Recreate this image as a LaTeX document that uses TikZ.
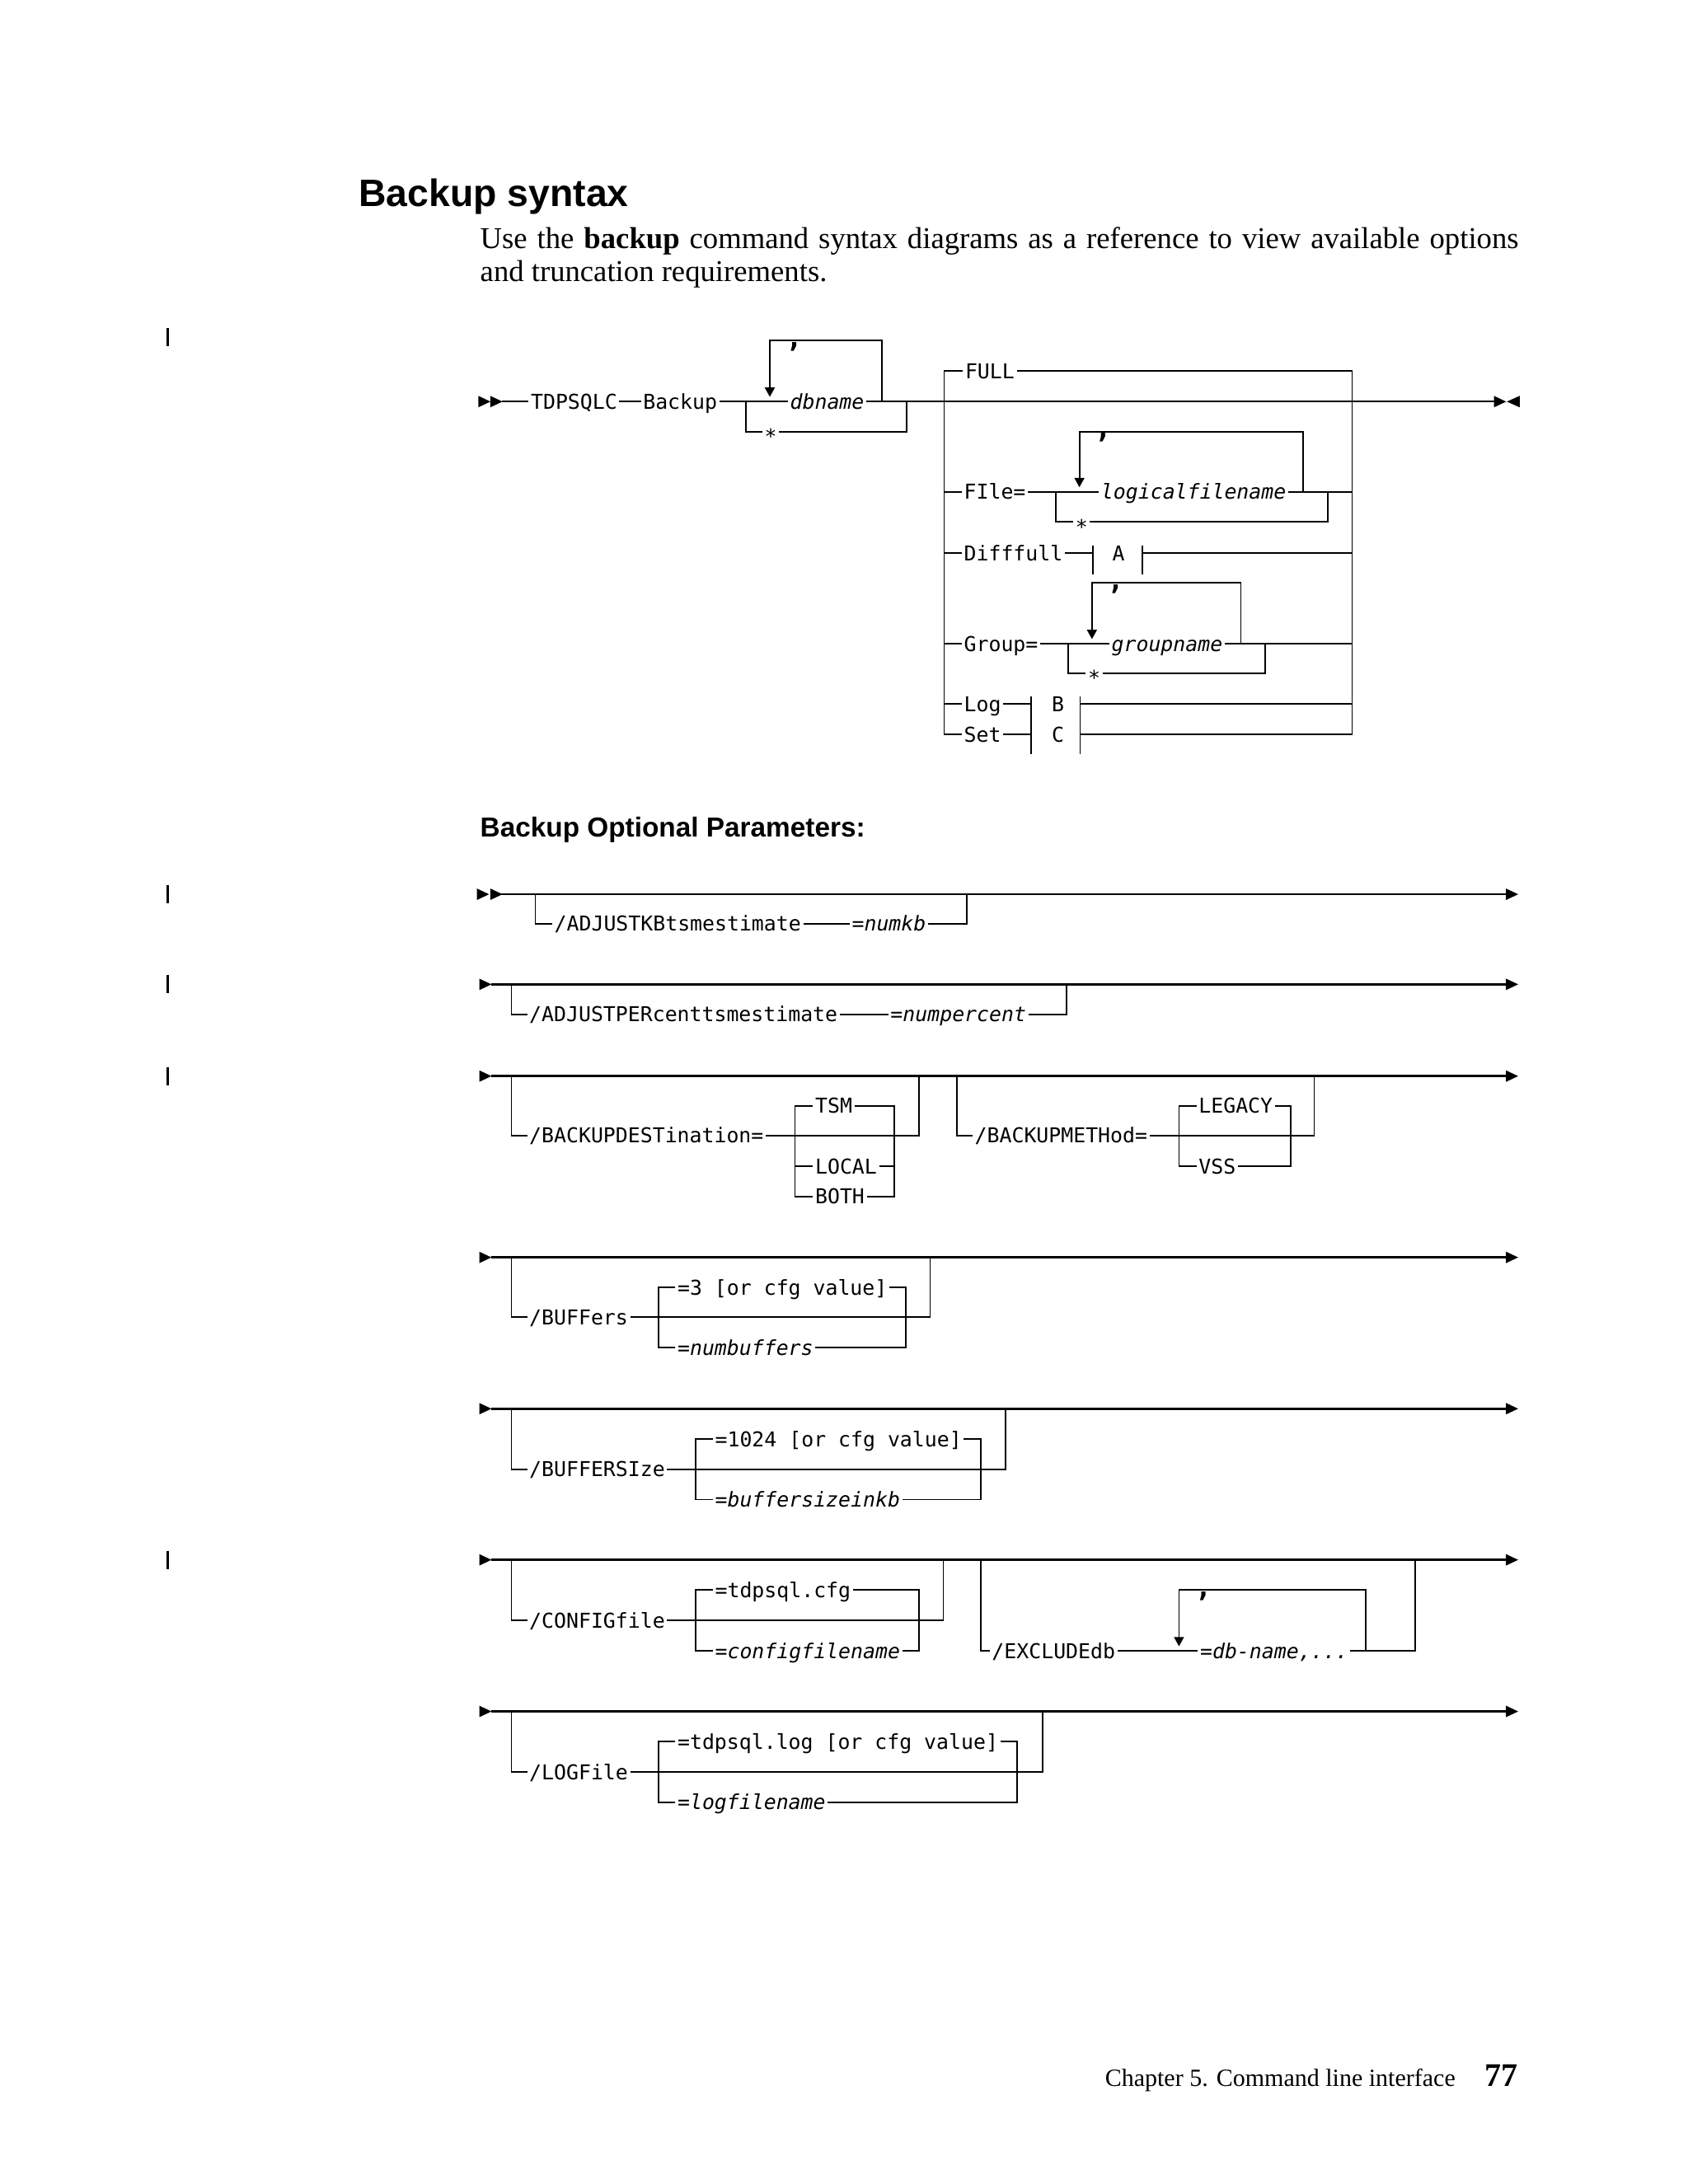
\documentclass[tikz,border=0pt]{standalone}
\usepackage{fontspec}
\setmainfont{Liberation Serif}
\newfontfamily\headfont{Liberation Sans}
\newfontfamily\synfont{DejaVu Sans Mono}
\usetikzlibrary{arrows.meta}
\begin{document}
\begin{tikzpicture}[x=0.5074pt,y=-0.5074pt,
				rail/.style={line width=0.55pt},
				mainrail/.style={line width=0.8pt},
				rep/.style={rail,-{Triangle[length=3.4pt,width=3.6pt]}},
				kw/.style={font=\synfont\fontsize{7.45}{9}\selectfont,anchor=west,
					inner xsep=0.6pt,inner ysep=0pt,text height=6.92pt,text depth=1.49pt},
				var/.style={kw,font=\synfont\itshape\fontsize{7.45}{9}\selectfont},
				sep/.style={font=\synfont\bfseries\fontsize{10}{12}\selectfont,anchor=base,inner sep=0pt},
				tipr/.pic={\fill (0,-4.1) -- (8.7,0) -- (0,4.1) -- cycle;},
				tipl/.pic={\fill (0,-4.1) -- (-9.2,0) -- (0,4.1) -- cycle;}]
\fill[white] (0,0) rectangle (1210.4,1566.2);
\useasboundingbox (0,0) rectangle (1210.4,1566.2);
% page text
\node[anchor=base west,inner sep=0pt,font=\headfont\bfseries\fontsize{13.9}{16}\selectfont] (title) at (257,147.8) {Backup syntax};
\node[anchor=base west,inner sep=0pt,font=\fontsize{11}{12}\selectfont] (intro1) at (344,178.3)
	{\makebox[377.8pt][s]{Use the \textbf{backup} command syntax diagrams as a reference to view available options}};
\node[anchor=base west,inner sep=0pt,font=\fontsize{11}{12}\selectfont] (intro2) at (344,202) {and truncation requirements.};
\node[anchor=base west,inner sep=0pt,font=\headfont\bfseries\fontsize{10}{12}\selectfont] (optparms) at (344,600) {Backup Optional Parameters:};
\node[anchor=base east,inner sep=0pt,font=\fontsize{9}{11}\selectfont] (chapter) at (1044,1496) {Chapter 5. Command line interface};
\node[anchor=base east,inner sep=0pt,font=\bfseries\fontsize{12}{14}\selectfont] (pagenum) at (1089,1496) {77};
\foreach \y in {242,641.3,705.9,771.7,1118.6}
	\draw[line width=0.9pt] (120.5,\y-6.5) -- (120.5,\y+6.5);

% backup command
\pic at (343,288) {tipr};
\pic at (351.6,288) {tipr};
\pic at (1071.3,288) {tipr};
\pic at (1089.7,288) {tipl};
\node[kw] (tdpsqlc) at (379.1,288) {TDPSQLC};
\node[kw] (backup) at (459.6,288) {Backup};
\node[var] (dbname) at (565,288) {dbname};
\node[kw] (dbstar) at (546.6,309.7) {\raisebox{-1.7pt}{*}};
\node[sep] (dbsep) at (569.5,249) {,};
\draw[rail] (360.2,288) -- (tdpsqlc.west) (tdpsqlc.east) -- (backup.west)
	(backup.east) -- (dbname.west) (dbname.east) -- (1071.3,288);
\draw[rail] (534.8,288) |- (dbstar.west) (dbstar.east) -| (650.1,288);
\draw[rep] (632.4,288) |- (552,244.3) -- (552,284.6);

\node[kw] (full) at (690.5,266) {FULL};
\node[kw] (file) at (689.7,352.8) {FIle=};
\node[var] (lfn) at (788,352.8) {logicalfilename};
\node[kw] (lfnstar) at (769.6,374.3) {\raisebox{-1.7pt}{*}};
\node[sep] (lfnsep) at (791,314.4) {,};
\node[kw] (difffull) at (689.7,396.6) {Difffull};
\node[kw] (fragA) at (796,396.6) {A};
\node[kw] (group) at (689.7,461.6) {Group=};
\node[var] (gname) at (795.5,461.6) {groupname};
\node[kw] (gstar) at (778.6,483) {\raisebox{-1.7pt}{*}};
\node[sep] (gsep) at (800,422.7) {,};
\node[kw] (log) at (689.7,504.7) {Log};
\node[kw] (fragB) at (752.6,504.7) {B};
\node[kw] (set) at (689.7,526.6) {Set};
\node[kw] (fragC) at (752.6,526.6) {C};
\draw[rail] (full.west) -| (677,526.6) -- (set.west);
\draw[rail] (full.east) -| (969.6,526.6) -- (774.5,526.6);
\draw[rail] (677,352.8) -- (file.west) (file.east) -- (lfn.west) (lfn.east) -- (969.6,352.8);
\draw[rail] (757,352.8) |- (lfnstar.west) (lfnstar.east) -| (952,352.8);
\draw[rep] (934.2,352.8) |- (774,309.7) -- (774,349.4);
\draw[rail] (677,396.6) -- (difffull.west) (difffull.east) -- (783.6,396.6)
	(818.9,396.6) -- (969.6,396.6);
\draw[rail] (783.6,391) -- (783.6,411.7) (818.9,391) -- (818.9,411.7);
\draw[rail] (677,461.6) -- (group.west) (group.east) -- (gname.west) (gname.east) -- (969.6,461.6);
\draw[rail] (766,461.6) |- (gstar.west) (gstar.east) -| (907.2,461.6);
\draw[rep] (889.8,461.6) |- (783,418) -- (783,458.3);
\draw[rail] (log.east) -- (739.2,504.7) (774.5,504.7) -- (969.6,504.7);
\draw[rail] (677,504.7) -- (log.west) (set.east) -- (739.2,526.6);
\draw[rail] (739.2,499.4) -- (739.2,541) (774.5,499.4) -- (774.5,541);

% optional parameters
\pic at (342,641.3) {tipr};
\pic at (351.6,641.3) {tipr};
\foreach \y in {705.9,771.7,901.7,1010.2,1118.6,1227.3}
	\pic at (343.7,\y) {tipr};
\foreach \y in {641.3,705.9,771.7,901.7,1010.2,1118.6,1227.3} {
	\draw[mainrail] (352,\y) -- (1079.9,\y);
	\pic at (1079.9,\y) {tipr};
}

\node[kw] (adjkb) at (396,662.3) {/ADJUSTKBtsmestimate};
\node[kw] (numkb) at (609.3,662.3) {=\textit{numkb}};
\draw[rail] (383.9,641.3) |- (adjkb.west) (adjkb.east) -- (numkb.west) (numkb.east) -| (693.5,641.3);

\node[kw] (adjpct) at (378,727.5) {/ADJUSTPERcenttsmestimate};
\node[kw] (numpct) at (637,727.5) {=\textit{numpercent}};
\draw[rail] (366.7,705.9) |- (adjpct.west) (adjpct.east) -- (numpct.west) (numpct.east) -| (765,705.9);

\node[kw] (bdest) at (378,814.2) {/BACKUPDESTination=};
\node[kw] (tsm) at (583,793) {TSM};
\node[kw] (local) at (583,836.3) {LOCAL};
\node[kw] (both) at (583,858) {BOTH};
\draw[rail] (366.7,771.7) |- (bdest.west) (bdest.east) -| (659.2,771.7);
\draw[rail] (tsm.west) -| (570,858) -- (both.west) (local.west) -- (570,836.3);
\draw[rail] (tsm.east) -| (641,858) -- (both.east) (local.east) -- (641,836.3);
\node[kw] (bmeth) at (697.4,814.2) {/BACKUPMETHod=};
\node[kw] (legacy) at (858,793) {LEGACY};
\node[kw] (vss) at (858,836.3) {VSS};
\draw[rail] (686.2,771.7) |- (bmeth.west) (bmeth.east) -| (942.4,771.7);
\draw[rail] (legacy.west) -| (845.4,836.3) -- (vss.west);
\draw[rail] (legacy.east) -| (925.3,836.3) -- (vss.east);

\node[kw] (buf) at (378,944.6) {/BUFFers};
\node[kw] (bufdef) at (484.3,923.3) {=3 [or cfg value]};
\node[kw] (numbuf) at (484.3,966.3) {=\textit{numbuffers}};
\draw[rail] (366.7,901.7) |- (buf.west) (buf.east) -| (667,901.7);
\draw[rail] (bufdef.west) -| (472,966.3) -- (numbuf.west);
\draw[rail] (bufdef.east) -| (649.4,966.3) -- (numbuf.east);

\node[kw] (bsize) at (378,1053.6) {/BUFFERSIze};
\node[kw] (bsizedef) at (511.2,1031.9) {=1024 [or cfg value]};
\node[kw] (bsizekb) at (511.2,1075.3) {=\textit{buffersizeinkb}};
\draw[rail] (366.7,1010.2) |- (bsize.west) (bsize.east) -| (721,1010.2);
\draw[rail] (bsizedef.west) -| (499,1075.3) -- (bsizekb.west);
\draw[rail] (bsizedef.east) -| (703.3,1075.3) -- (bsizekb.east);

\node[kw] (cfg) at (378,1162) {/CONFIGfile};
\node[kw] (cfgdef) at (511.2,1140.3) {=tdpsql.cfg};
\node[kw] (cfgname) at (511.2,1184) {=\textit{configfilename}};
\draw[rail] (366.7,1118.6) |- (cfg.west) (cfg.east) -| (676.4,1118.6);
\draw[rail] (cfgdef.west) -| (499,1184) -- (cfgname.west);
\draw[rail] (cfgdef.east) -| (659.2,1184) -- (cfgname.east);
\node[kw] (excl) at (709.7,1184) {/EXCLUDEdb};
\node[kw] (dbnames) at (859,1184) {=\textit{db-name,...}};
\node[sep] (exclsep) at (863,1145) {,};
\draw[rail] (703.3,1118.6) |- (excl.west) (excl.east) -- (dbnames.west) (dbnames.east) -| (1015,1118.6);
\draw[rep] (979.2,1184) |- (845.4,1140.3) -- (845.4,1180.6);

\node[kw] (logf) at (378,1270.7) {/LOGFile};
\node[kw] (logdef) at (484.3,1249) {=tdpsql.log [or cfg value]};
\node[kw] (logname) at (484.3,1292.4) {=\textit{logfilename}};
\draw[rail] (366.7,1227.3) |- (logf.west) (logf.east) -| (747.5,1227.3);
\draw[rail] (logdef.west) -| (472,1292.4) -- (logname.west);
\draw[rail] (logdef.east) -| (729.3,1292.4) -- (logname.east);
\end{tikzpicture}
\end{document}
